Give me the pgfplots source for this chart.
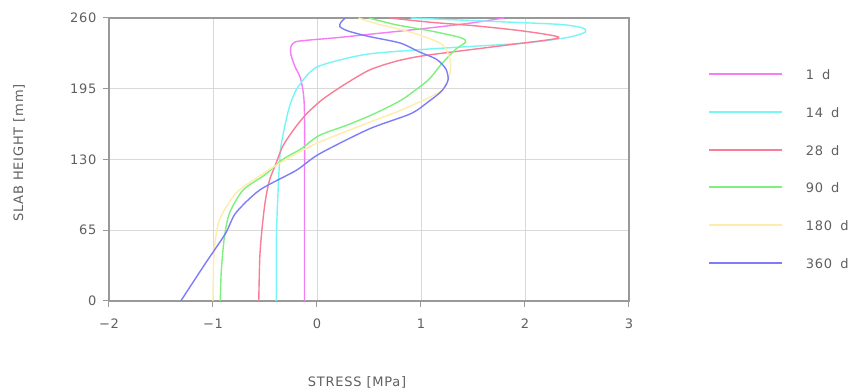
\documentclass[border=0pt]{standalone}
\usepackage{pgfplots}
\pgfplotsset{compat=1.18}
\usepackage{fontspec}
\setmainfont{DejaVu Sans}[LetterSpace=6]
\definecolor{cmag}{RGB}{245,125,245}
\definecolor{ccya}{RGB}{120,245,245}
\definecolor{cred}{RGB}{250,125,150}
\definecolor{cgre}{RGB}{125,240,125}
\definecolor{cyel}{RGB}{255,236,170}
\definecolor{cblu}{RGB}{125,125,250}
\definecolor{txt}{RGB}{95,95,95}
\begin{document}
\begin{tikzpicture}
\useasboundingbox (-109pt,-89pt) rectangle (746pt,301pt);
\begin{axis}[
  at={(0pt,0pt)}, anchor=south west,
  scale only axis, width=520pt, height=283pt,
  xmin=-2, xmax=3, ymin=0, ymax=260,
  xtick={-2,-1,0,1,2,3}, xticklabels={−2,−1,0,1,2,3},
  ytick={0,65,130,195,260},
  tick pos=left,
  grid=major, grid style={gray!30, line width=0.7pt},
  axis line style={gray!80, line width=1.5pt},
  tick style={gray!80, line width=1pt}, tick align=outside, major tick length=6pt,
  ticklabel style={font=\fontsize{13}{14}\selectfont, text=txt},
  /pgf/number format/assume math mode=true,
  xticklabel style={yshift=-8pt},
  yticklabel style={xshift=-3pt},
  xlabel={STRESS [MPa]}, ylabel={SLAB HEIGHT [mm]},
  label style={font=\fontsize{13}{14}\selectfont, text=txt},
  xlabel style={at={(axis description cs:0.477,-0.286)}, anchor=center},
  ylabel style={at={(axis description cs:-0.173,0.523)}, anchor=center},
  legend style={at={(axis description cs:1.146,0.825)}, anchor=north west, draw=none, fill=none,
    font=\fontsize{13}{14}\selectfont, text=txt, row sep=27.7pt,
    nodes={inner sep=0pt, text height=10pt, text depth=0pt}},
  legend cell align=left,
  legend image code/.code={\draw[#1, line width=2.2pt] (0pt,0.5pt) -- (73pt,0.5pt); \path (96pt,0pt);},
  every axis plot/.append style={line width=1.4pt, smooth, tension=0.45, no markers},
]
\addplot[cmag] coordinates {(-0.12,0) (-0.12,100) (-0.12,170) (-0.13,190) (-0.16,205) (-0.21,215) (-0.25,226) (-0.25,234) (-0.21,238) (-0.1,239.5) (0.2,242) (0.5,245) (1.0,250) (1.45,255) (1.8,260)};
\addlegendentry{1\hspace{8pt}d}
\addplot[ccya] coordinates {(-0.39,0) (-0.39,60) (-0.37,110) (-0.35,140) (-0.3,165) (-0.26,180) (-0.2,194) (-0.1,207) (0.0,215) (0.2,221) (0.5,227) (1.0,231) (1.5,234) (2.0,237) (2.4,242) (2.58,247) (2.55,251) (2.35,254) (1.9,256) (1.4,258) (0.9,260)};
\addlegendentry{14\hspace{8pt}d}
\addplot[cred] coordinates {(-0.56,0) (-0.55,40) (-0.53,65) (-0.5,90) (-0.46,110) (-0.4,125) (-0.33,142) (-0.22,158) (-0.1,172) (0.05,185) (0.25,198) (0.5,212) (0.75,220) (1.0,225) (1.4,230) (1.9,236) (2.32,241.5) (2.2,245) (1.9,249) (1.5,253) (1.1,256) (0.7,260)};
\addlegendentry{28\hspace{8pt}d}
\addplot[cgre] coordinates {(-0.93,0) (-0.92,28) (-0.89,59) (-0.84,81) (-0.71,102) (-0.5,116) (-0.33,130) (-0.15,140) (0.02,152) (0.3,162) (0.55,172) (0.8,184) (0.95,194) (1.08,204) (1.2,218) (1.33,231) (1.43,238) (1.38,242) (1.1,248) (0.75,254) (0.5,260)};
\addlegendentry{90\hspace{8pt}d}
\addplot[cyel] coordinates {(-1.0,0) (-0.99,44) (-0.94,74) (-0.78,99) (-0.55,115) (-0.3,130) (0.0,145) (0.5,164) (0.8,175) (1.1,188) (1.23,196) (1.28,210) (1.28,222) (1.2,236) (0.9,247) (0.6,254) (0.4,260)};
\addlegendentry{180\hspace{8pt}d}
\addplot[cblu] coordinates {(-1.31,0) (-1.07,35) (-0.88,62) (-0.78,81) (-0.55,102) (-0.2,120) (0.02,135) (0.5,158) (0.9,172) (1.07,183) (1.2,193) (1.26,203) (1.24,213) (1.15,222) (0.98,229) (0.8,237) (0.5,243) (0.3,248) (0.22,252) (0.23,256) (0.27,260)};
\addlegendentry{360\hspace{8pt}d}
\end{axis}
\end{tikzpicture}
\end{document}
